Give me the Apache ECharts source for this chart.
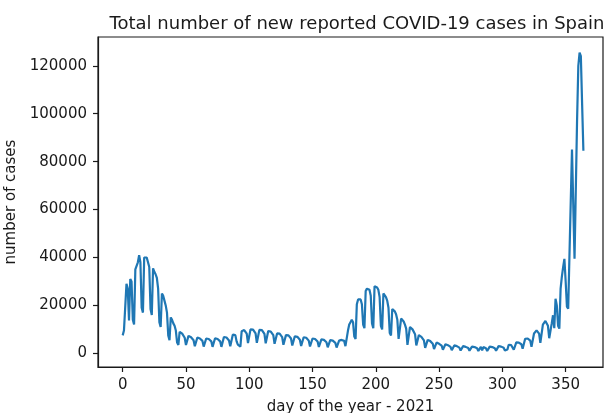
<!DOCTYPE html>
<html><head><meta charset="utf-8">
<script src="https://cdn.jsdelivr.net/npm/echarts@6/dist/echarts.min.js"></script>
<style>html,body{margin:0;padding:0;background:#fff}#c{width:605px;height:413px}</style>
</head><body><div id="c"></div>
<script>
const titleText = 'Total number of new reported COVID-19 cases in Spain';
const xName = 'day of the year - 2021';
const yName = 'number of cases';
const xTicks = [0, 50, 100, 150, 200, 250, 300, 350];
const yTicks = [0, 20000, 40000, 60000, 80000, 100000, 120000];
// daily new cases, day 0 = 1 Jan 2021
const cases = [
  7500, 9500, 10000,
  29000, 27000, 13700, 31000, 30000, 14000, 12000,
  35000, 36500, 38000, 41000, 38000, 19000, 17000,
  40000, 40500, 40000, 40000, 36000, 18500, 16000,
  35500, 34000, 33000, 31500, 27000, 13000, 11000,
  25000, 24000, 22000, 20000, 17000, 7500, 5500,
  15000, 14000, 12500, 11500, 9500, 4500, 3500,
  9000, 8600, 8200, 7700, 6500, 3500, 2800,
  7300, 7000, 6700, 6400, 5500, 3000, 2500,
  6600, 6400, 6200, 6000, 5200, 2800, 2300,
  6200, 6100, 6000, 5800, 5000, 2700, 2200,
  6300, 6200, 6000, 5900, 5000, 2700, 2200,
  6800, 6700, 6600, 6400, 5400, 2900, 2400,
  7800, 8000, 7600, 5000, 3600, 3300, 2800,
  9200, 9800, 9700, 9400, 8200, 4300, 3500,
  10000, 10200, 9900, 9600, 8300, 4400, 3600,
  9800, 10000, 9700, 9400, 8100, 4200, 3500,
  9300, 9400, 9100, 8800, 7600, 4000, 3300,
  8300, 8400, 8200, 7900, 6800, 3600, 3000,
  7600, 7700, 7500, 7200, 6200, 3300, 2700,
  7100, 7100, 6900, 6600, 5700, 3100, 2600,
  6700, 6700, 6500, 6200, 5300, 2900, 2400,
  6200, 6200, 6000, 5800, 4900, 2700, 2200,
  5800, 5800, 5600, 5400, 4600, 2500, 2100,
  5500, 5500, 5300, 5100, 4400, 2400, 2000,
  5300, 5500, 5600, 5700, 5200, 3000, 2600,
  9500, 12000, 13000, 14000, 13000, 7000, 6000,
  20500, 22500, 23000, 22500, 20500, 12000, 10500,
  26000, 27000, 27000, 26500, 24000, 12500, 10500,
  28000, 28300, 27500, 26500, 23500, 11500, 10000,
  25000, 24500, 23500, 22000, 19000, 8500, 7500,
  18500, 18300, 17500, 16300, 14000, 6000, 5200,
  14500, 14200, 13300, 12000, 10300, 3500, 2700,
  11000, 10600, 10000, 9300, 8000, 3300, 2700,
  7600, 7300, 6900, 6300, 5400, 2300, 1900,
  5600, 5400, 5100, 4700, 4000, 1800, 1500,
  4500, 4300, 4000, 3700, 3200, 1500, 1200,
  3800, 3600, 3400, 3100, 2700, 1300, 1100,
  3300, 3100, 3000, 2800, 2400, 1200, 1000,
  3000, 2900, 2700, 2500, 2200, 1100, 900,
  2800, 2700, 2600, 2400, 2100, 1000, 900,
  2700, 1200, 2600, 2500, 2100, 1000, 850,
  2800, 2700, 2600, 2500, 2100, 1100, 900,
  3000, 2900, 2800, 2700, 2300, 1200, 1000,
  1600, 3600, 3500, 3400, 3000, 1500, 1300,
  4600, 4600, 4500, 4300, 3800, 1900, 1600,
  6100, 6300, 6200, 6000, 5300, 2700, 2300,
  8300, 9000, 9600, 9400, 8200, 4400, 3800,
  12000, 12800, 13500, 13200, 11500, 6300, 5500,
  12500, 15900, 10500, 22800, 20000, 11500, 10300,
  27000, 32000, 36000, 39400, 30000, 19500, 18600,
  41000, 63000, 85000, 62000, 39500, 68000, 97000,
  120000, 125500, 124000, 104000, 84500
];
const points = cases.map((v, i) => [i, v]);

const font = 'DejaVu Sans';
const ink = '#1a1a1a';
const plain = v => String(v);
const chart = echarts.init(document.getElementById('c'), null, {renderer: 'canvas'});
chart.setOption({
  animation: false,
  backgroundColor: '#ffffff',
  title: {
    text: titleText, left: 352, top: 10, textAlign: 'center',
    textStyle: {fontFamily: font, fontSize: 18, fontWeight: 'normal', color: ink}
  },
  grid: {left: 98, top: 37, width: 505, height: 330, show: true, borderColor: ink, borderWidth: 1.2,
         containLabel: false, outerBoundsMode: 'none'},
  xAxis: {
    type: 'value', min: -19.5, max: 379.5,
    name: xName, nameLocation: 'middle', nameGap: 33,
    nameTextStyle: {fontFamily: font, fontSize: 15, color: ink},
    axisLine: {show: true, onZero: false, lineStyle: {color: ink, width: 1.2}},
    axisTick: {show: true, length: 5, customValues: xTicks, lineStyle: {color: ink, width: 1.2}},
    axisLabel: {customValues: xTicks, formatter: plain, margin: 11, fontFamily: font, fontSize: 15, color: ink},
    splitLine: {show: false}
  },
  yAxis: {
    type: 'value', min: -5700, max: 132000,
    name: yName, nameLocation: 'middle', nameGap: 73,
    nameTextStyle: {fontFamily: font, fontSize: 15, color: ink},
    axisLine: {show: true, onZero: false, lineStyle: {color: ink, width: 1.2}},
    axisTick: {show: true, length: 5, customValues: yTicks, lineStyle: {color: ink, width: 1.2}},
    axisLabel: {customValues: yTicks, formatter: plain, margin: 11, fontFamily: font, fontSize: 15, color: ink},
    splitLine: {show: false}
  },
  series: [{
    type: 'line', data: points, showSymbol: false, symbol: 'none',
    lineStyle: {color: '#1f77b4', width: 2.2}, itemStyle: {color: '#1f77b4'}
  }]
});
</script>
</body></html>
